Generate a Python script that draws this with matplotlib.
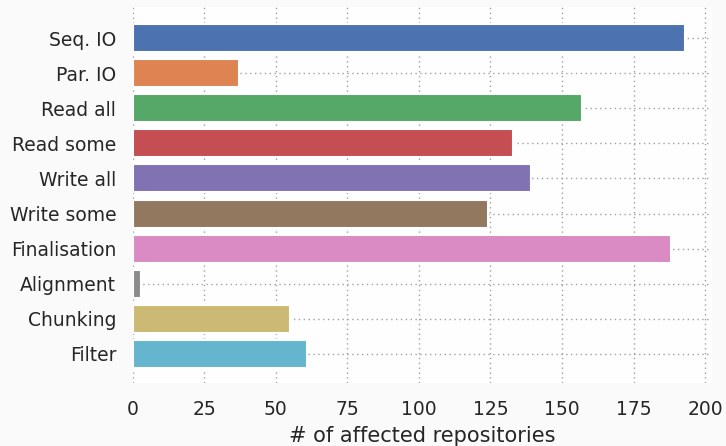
import numpy as np
import matplotlib.pyplot as plt
import seaborn as sns

categories = ["Seq. IO", "Par. IO", "Read all", "Read some", "Write all",
              "Write some", "Finalisation", "Alignment", "Chunking", "Filter"]
counts = [193, 37, 157, 133, 139, 124, 188, 3, 55, 61]

colors = sns.color_palette("deep", len(categories))

fig, ax = plt.subplots(figsize=(7.26, 4.46), dpi=100)
fig.patch.set_facecolor('#fafafa')
ax.set_facecolor('#fefefe')

y = np.arange(len(categories))
ax.barh(y, counts, height=0.8, color=colors, edgecolor='white', linewidth=1.5, zorder=2)

ax.set_yticks(y)
ax.set_yticklabels(categories, fontsize=13.5, color='#262626')
ax.set_ylim(9.84, -0.89)
ax.set_xlim(0, 202.5)
ax.set_xticks([0, 25, 50, 75, 100, 125, 150, 175, 200])
ax.tick_params(axis='x', labelsize=13.5, colors='#262626', length=0, pad=12)
ax.tick_params(axis='y', length=0, pad=12)
ax.set_xlabel("# of affected repositories", fontsize=15, color='#262626', labelpad=5)

ax.grid(True, linestyle=(0, (1, 2.5)), color='#a0a0a0', linewidth=1.0, zorder=0)
ax.set_axisbelow(True)
for s in ax.spines.values():
    s.set_visible(False)

fig.subplots_adjust(left=0.183, right=0.981, top=0.984, bottom=0.141)
plt.savefig("out.png", dpi=100, facecolor=fig.get_facecolor())
